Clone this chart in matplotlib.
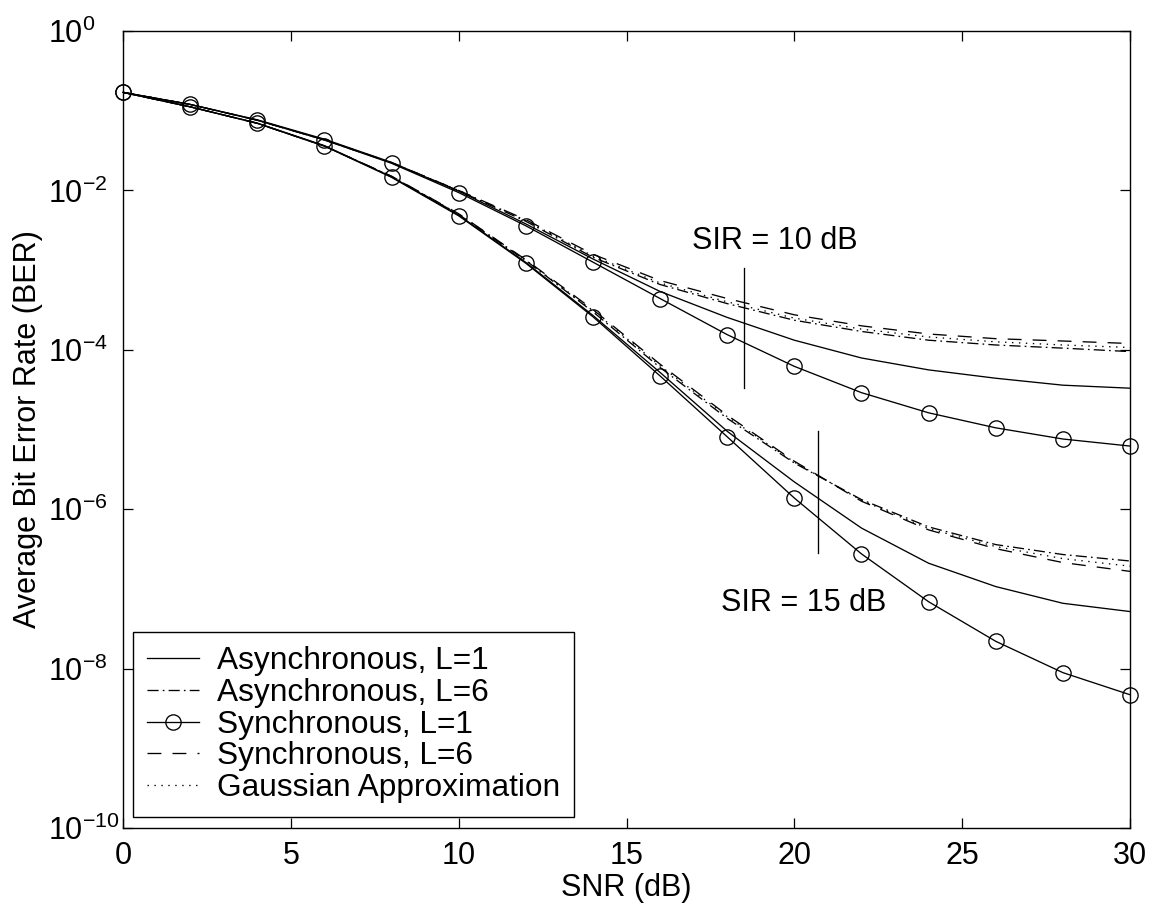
import matplotlib
matplotlib.use('Agg')
import matplotlib.pyplot as plt
from matplotlib.ticker import FixedLocator, NullLocator

plt.rcParams['font.family'] = ['Liberation Sans', 'DejaVu Sans']
plt.rcParams['mathtext.fontset'] = 'custom'
plt.rcParams['mathtext.rm'] = 'Liberation Sans'
plt.rcParams['mathtext.it'] = 'Liberation Sans'
plt.rcParams['lines.scale_dashes'] = False

snr = [0, 2, 4, 6, 8, 10, 12, 14, 16, 18, 20, 22, 24, 26, 28, 30]

# SIR = 10 dB
async_l1_10 = [1.70e-1, 1.20e-1, 7.7e-2, 4.4e-2, 2.25e-2, 9.8e-3, 3.8e-3, 1.38e-3,
               5.4e-4, 2.55e-4, 1.32e-4, 7.9e-5, 5.6e-5, 4.4e-5, 3.6e-5, 3.3e-5]
async_l6_10 = [1.70e-1, 1.20e-1, 7.6e-2, 4.3e-2, 2.22e-2, 9.9e-3, 4.1e-3, 1.45e-3,
               6.6e-4, 3.8e-4, 2.35e-4, 1.7e-4, 1.32e-4, 1.15e-4, 1.05e-4, 9.5e-5]
sync_l1_10 = [1.70e-1, 1.20e-1, 7.6e-2, 4.3e-2, 2.19e-2, 9.4e-3, 3.6e-3, 1.26e-3,
              4.4e-4, 1.55e-4, 6.2e-5, 2.9e-5, 1.62e-5, 1.05e-5, 7.6e-6, 6.2e-6]
sync_l6_10 = [1.70e-1, 1.20e-1, 7.6e-2, 4.3e-2, 2.24e-2, 1.0e-2, 4.3e-3, 1.58e-3,
              7.4e-4, 4.4e-4, 2.75e-4, 2.0e-4, 1.58e-4, 1.38e-4, 1.29e-4, 1.20e-4]
gauss_10 = [1.70e-1, 1.20e-1, 7.6e-2, 4.3e-2, 2.23e-2, 1.0e-2, 4.2e-3, 1.5e-3,
            6.9e-4, 4.0e-4, 2.5e-4, 1.82e-4, 1.45e-4, 1.26e-4, 1.15e-4, 1.07e-4]

# SIR = 15 dB
async_l1_15 = [1.70e-1, 1.12e-1, 7.0e-2, 3.65e-2, 1.48e-2, 4.9e-3, 1.25e-3, 2.7e-4,
               5.2e-5, 9.5e-6, 2.2e-6, 5.8e-7, 2.1e-7, 1.07e-7, 6.6e-8, 5.2e-8]
async_l6_15 = [1.70e-1, 1.12e-1, 6.95e-2, 3.6e-2, 1.50e-2, 5.0e-3, 1.32e-3, 3.0e-4,
               6.0e-5, 1.38e-5, 3.8e-6, 1.32e-6, 6.0e-7, 3.6e-7, 2.7e-7, 2.24e-7]
sync_l1_15 = [1.70e-1, 1.12e-1, 6.95e-2, 3.6e-2, 1.46e-2, 4.8e-3, 1.22e-3, 2.6e-4,
              4.7e-5, 8.1e-6, 1.38e-6, 2.75e-7, 6.9e-8, 2.2e-8, 8.9e-9, 4.7e-9]
sync_l6_15 = [1.70e-1, 1.12e-1, 6.95e-2, 3.6e-2, 1.51e-2, 5.1e-3, 1.35e-3, 3.2e-4,
              6.6e-5, 1.51e-5, 4.0e-6, 1.26e-6, 5.5e-7, 3.2e-7, 2.14e-7, 1.66e-7]
gauss_15 = [1.70e-1, 1.12e-1, 6.95e-2, 3.6e-2, 1.50e-2, 5.05e-3, 1.33e-3, 3.1e-4,
            6.3e-5, 1.45e-5, 3.9e-6, 1.29e-6, 5.7e-7, 3.4e-7, 2.4e-7, 1.93e-7]

# SIR markers (vertical bars) and their labels
sir10_bar_x = [18.5, 18.5]
sir10_bar_y = [1.07e-3, 3.3e-5]
sir15_bar_x = [20.7, 20.7]
sir15_bar_y = [9.5e-6, 2.8e-7]
sir10_label = (16.95, 2.3e-3, 'SIR = 10 dB')
sir15_label = (17.8, 6.6e-8, 'SIR = 15 dB')

x_ticks = [0, 5, 10, 15, 20, 25, 30]
y_ticks = [1e0, 1e-2, 1e-4, 1e-6, 1e-8, 1e-10]

fig = plt.figure(figsize=(11.57, 9.10), dpi=100)
ax = fig.add_axes([0.1063, 0.0901, 0.8704, 0.8758])

lw = 0.95
st_async1 = dict(color='black', lw=lw, linestyle='-')
st_async6 = dict(color='black', lw=lw, linestyle=(0, (8, 3, 1.2, 3)))
st_sync1 = dict(color='black', lw=lw, linestyle='-', marker='o', markersize=11,
                markerfacecolor='none', markeredgewidth=0.95)
st_sync6 = dict(color='black', lw=lw, linestyle=(0, (10, 8)))
st_gauss = dict(color='black', lw=lw, linestyle=(0, (1, 4)))

ax.plot(snr, async_l1_10, label='Asynchronous, L=1', **st_async1)
ax.plot(snr, async_l6_10, label='Asynchronous, L=6', **st_async6)
ax.plot(snr, sync_l1_10, label='Synchronous, L=1', clip_on=False, **st_sync1)
ax.plot(snr, sync_l6_10, label='Synchronous, L=6', **st_sync6)
ax.plot(snr, gauss_10, label='Gaussian Approximation', **st_gauss)

ax.plot(snr, async_l1_15, **st_async1)
ax.plot(snr, async_l6_15, **st_async6)
ax.plot(snr, sync_l1_15, clip_on=False, **st_sync1)
ax.plot(snr, sync_l6_15, **st_sync6)
ax.plot(snr, gauss_15, **st_gauss)

ax.plot(sir10_bar_x, sir10_bar_y, color='black', lw=lw)
ax.plot(sir15_bar_x, sir15_bar_y, color='black', lw=lw)
ax.text(sir10_label[0], sir10_label[1], sir10_label[2], fontsize=22, va='center', ha='left')
ax.text(sir15_label[0], sir15_label[1], sir15_label[2], fontsize=22, va='center', ha='left')

ax.set_yscale('log')
ax.set_xlim(0, 30)
ax.set_ylim(1e-10, 1)
ax.set_xticks(x_ticks)
ax.yaxis.set_major_locator(FixedLocator(y_ticks))
ax.yaxis.set_minor_locator(NullLocator())
ax.tick_params(axis='both', which='major', direction='in', length=7, width=0.9,
               top=True, right=True, labelsize=22)
ax.tick_params(axis='x', pad=9)
ax.tick_params(axis='y', pad=54)
for t in ax.yaxis.get_major_ticks():
    t.label1.set_horizontalalignment('left')
for s in ax.spines.values():
    s.set_linewidth(1.0)

ax.set_xlabel('SNR (dB)', fontsize=22, labelpad=2)
ax.set_ylabel('Average Bit Error Rate (BER)', fontsize=22)
ax.yaxis.set_label_coords(-0.079, 0.5)

leg = ax.legend(loc='lower left', bbox_to_anchor=(0.0099, 0.0138), borderaxespad=0,
                fontsize=22.8, frameon=True, fancybox=False, framealpha=1,
                edgecolor='black', handlelength=1.65, handletextpad=0.55,
                labelspacing=0.05, borderpad=0.45)
leg.get_frame().set_linewidth(1.0)

fig.savefig('out.png', dpi=100)
